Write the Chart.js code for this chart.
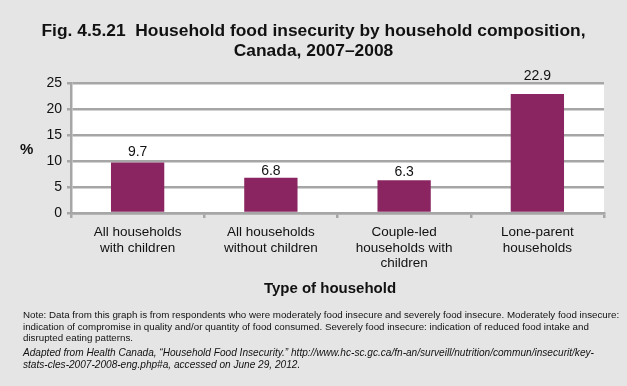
<!DOCTYPE html>
<html>
<head>
<meta charset="utf-8">
<script src="https://cdn.jsdelivr.net/npm/chart.js@4.4.1/dist/chart.umd.min.js"></script>
<style>
  html, body { margin: 0; padding: 0; background: #e5e5e5; }
  body { width: 627px; height: 386px; position: relative; overflow: hidden;
         font-family: "Liberation Sans", Arial, sans-serif; color: #111; }
  #wrap { position: absolute; left: 0; top: 0; width: 627px; height: 386px; }
  .fig-title { position: absolute; left: 0; width: 627px; top: 21px; text-align: center;
               font-weight: bold; font-size: 17.4px; line-height: 19.5px; }
  .y-title { position: absolute; left: 20px; top: 140px; font-weight: bold; font-size: 15px; }
  .x-title { position: absolute; left: 230px; width: 200px; top: 279px; text-align: center;
             font-weight: bold; font-size: 15px; }
  .note { position: absolute; left: 23px; top: 309px; font-size: 9.75px; line-height: 11.7px; white-space: nowrap; }
  .source { position: absolute; left: 23px; top: 347px; font-size: 10.1px; line-height: 11.5px;
            font-style: italic; white-space: nowrap; }
</style>
</head>
<body>
<div id="wrap"><canvas id="chart-food"></canvas></div>
<div class="fig-title">Fig. 4.5.21&nbsp; Household food insecurity by household composition,<br>Canada, 2007–2008</div>
<div class="y-title">%</div>
<div class="x-title">Type of household</div>
<div class="note">Note: Data from this graph is from respondents who were moderately food insecure and severely food insecure. Moderately food insecure:<br>indication of compromise in quality and/or quantity of food consumed. Severely food insecure: indication of reduced food intake and<br>disrupted eating patterns.</div>
<div class="source">Adapted from Health Canada, “Household Food Insecurity.” http://www.hc-sc.gc.ca/fn-an/surveill/nutrition/commun/insecurit/key-<br>stats-cles-2007-2008-eng.php#a, accessed on June 29, 2012.</div>

<script>
/* global Chart */

const householdTypes = [
    ['All households', 'with children'],
    ['All households', 'without children'],
    ['Couple-led', 'households with', 'children'],
    ['Lone-parent', 'households']
];
const insecurityPct = [9.7, 6.8, 6.3, 22.9];
const yTickValues = [0, 5, 10, 15, 20, 25];

// how far above each bar its value label sits (px), as placed in the original
const labelLift = [10, 6, 8, 18];

const FONT = '"Liberation Sans", Arial, sans-serif';
const GRID = '#a6a6a6';

const plotBackground = {
    id: 'plotBackground',
    beforeDraw(chart) {
        const { ctx, chartArea } = chart;
        ctx.save();
        ctx.fillStyle = '#ffffff';
        ctx.fillRect(chartArea.left, chartArea.top, chartArea.right - chartArea.left, chartArea.bottom - chartArea.top);
        ctx.restore();
    }
};

const valueLabels = {
    id: 'valueLabels',
    afterDatasetsDraw(chart) {
        const ctx = chart.ctx;
        const meta = chart.getDatasetMeta(0);
        ctx.save();
        ctx.font = '14px ' + FONT;
        ctx.fillStyle = '#111';
        ctx.textAlign = 'center';
        ctx.textBaseline = 'middle';
        meta.data.forEach((bar, i) => {
            ctx.fillText(insecurityPct[i].toFixed(1), bar.x, bar.y - labelLift[i]);
        });
        ctx.restore();
    }
};

new Chart(document.getElementById('chart-food').getContext('2d'), {
    type: 'bar',
    data: {
        labels: householdTypes,
        datasets: [{
            data: insecurityPct,
            backgroundColor: '#8a2561',
            borderWidth: 0,
            barPercentage: 0.4,
            categoryPercentage: 1
        }]
    },
    options: {
        responsive: true,
        maintainAspectRatio: false,
        animation: false,
        layout: { padding: { left: 0, right: 23, top: 83, bottom: 73 } },
        plugins: {
            legend: { display: false },
            tooltip: { enabled: false }
        },
        scales: {
            x: {
                offset: true,
                ticks: { font: { family: FONT, size: 13.5, lineHeight: 1.15 }, color: '#111', maxRotation: 0, autoSkip: false, padding: 6.5 },
                grid: { drawOnChartArea: false, offset: true, color: GRID, lineWidth: 2.5, tickLength: 5 },
                border: { color: GRID, width: 2.5 },
                afterFit(scale) { scale.height = 100; }
            },
            y: {
                min: 0,
                max: 25,
                afterBuildTicks(scale) { scale.ticks = yTickValues.map(v => ({ value: v })); },
                ticks: { font: { family: FONT, size: 14 }, color: '#111', padding: 5 },
                grid: { color: GRID, lineWidth: 2.5, tickLength: 4 },
                border: { color: GRID, width: 2.5 },
                afterFit(scale) { scale.width = 71; }
            }
        }
    },
    plugins: [plotBackground, valueLabels]
});
</script>
</body>
</html>
